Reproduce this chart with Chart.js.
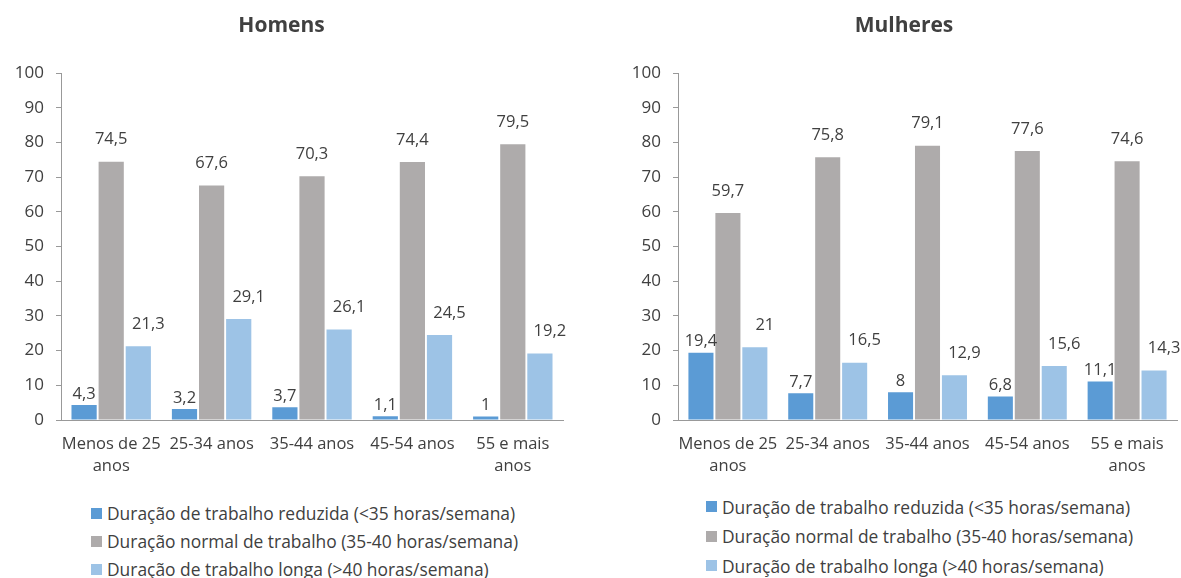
<!DOCTYPE html>
<html lang="pt">
<head>
<meta charset="utf-8">
<title>Duração do trabalho por grupo etário</title>
<script src="https://cdn.jsdelivr.net/npm/chart.js@4.4.1/dist/chart.umd.min.js"></script>
<style>
  body { margin: 0; background: #fff; font-family: 'Open Sans', sans-serif; }
  #pagina { position: relative; width: 1181px; height: 578px; overflow: hidden; }
  canvas { position: absolute; top: 0; }
  .legenda { position: absolute; color: #404040; font-size: 17.4px; }
  .legenda-item { display: flex; align-items: center; white-space: nowrap; }
  .legenda-item .cor { width: 11px; height: 11px; margin-right: 5px; flex: none; }
</style>
</head>
<body>
<div id="pagina">
  <canvas id="graficoHomens" width="580" height="490" style="left:0"></canvas>
  <canvas id="graficoMulheres" width="550" height="490" style="left:631px"></canvas>
  <div id="legendaHomens" class="legenda" style="left:91px; top:499px"></div>
  <div id="legendaMulheres" class="legenda" style="left:706px; top:492px"></div>
</div>
<script>
// grupos etários (eixo x)
const categorias = [["Menos de 25", "anos"], "25-34 anos", "35-44 anos", "45-54 anos", ["55 e mais", "anos"]];

const nomesSeries = [
  "Duração de trabalho reduzida (<35 horas/semana)",
  "Duração normal de trabalho (35-40 horas/semana)",
  "Duração de trabalho longa (>40 horas/semana)"
];
const coresSeries = ["#5B9BD5", "#AEABAB", "#9DC3E6"];

// percentagens, homens
const homensReduzida = [4.3, 3.2, 3.7, 1.1, 1];
const homensNormal = [74.5, 67.6, 70.3, 74.4, 79.5];
const homensLonga = [21.3, 29.1, 26.1, 24.5, 19.2];

// percentagens, mulheres
const mulheresReduzida = [19.4, 7.7, 8, 6.8, 11.1];
const mulheresNormal = [59.7, 75.8, 79.1, 77.6, 74.6];
const mulheresLonga = [21, 16.5, 12.9, 15.6, 14.3];

// eixo y
const yMin = 0;
const yMax = 100;
const yPasso = 10;

const corTexto = "#404040";
const corEixo = "#999999";

// deslocamento dos rótulos de valor em relação ao topo da barra
const deslocRotulos = [{ dx: 0, dy: 11 }, { dx: 0, dy: 22 }, { dx: 10, dy: 22 }];

Chart.defaults.font.family = "'Open Sans', sans-serif";
Chart.defaults.color = corTexto;

function formatar(v) {
  return String(v).replace(".", ",");
}

const rotulosValores = {
  id: "rotulosValores",
  afterDatasetsDraw(chart) {
    const ctx = chart.ctx;
    ctx.save();
    ctx.font = "16.5px 'Open Sans', sans-serif";
    ctx.fillStyle = corTexto;
    ctx.textAlign = "center";
    ctx.textBaseline = "middle";
    chart.data.datasets.forEach((ds, i) => {
      const d = deslocRotulos[i];
      chart.getDatasetMeta(i).data.forEach((barra, j) => {
        ctx.fillText(formatar(ds.data[j]), barra.x + d.dx, barra.y - d.dy);
      });
    });
    ctx.restore();
  }
};

function criarGrafico(id, titulo, series, larguraEixoY, margemDireita) {
  const datasets = series.map((valores, i) => ({
    label: nomesSeries[i],
    data: valores,
    backgroundColor: coresSeries[i],
    borderWidth: 0,
    categoryPercentage: 0.81,
    barPercentage: 0.93
  }));

  return new Chart(document.getElementById(id), {
    type: "bar",
    data: { labels: categorias, datasets: datasets },
    plugins: [rotulosValores],
    options: {
      responsive: false,
      animation: false,
      devicePixelRatio: 1,
      layout: { padding: { left: 0, right: margemDireita, top: 0, bottom: 0 } },
      plugins: {
        legend: { display: false },
        tooltip: { enabled: false },
        title: {
          display: true,
          text: titulo,
          color: corTexto,
          font: { size: 21, weight: "bold" },
          padding: { top: 13, bottom: 35 }
        }
      },
      scales: {
        x: {
          grid: { display: false, drawTicks: false },
          border: { display: true, color: corEixo, width: 1 },
          ticks: {
            color: corTexto,
            font: { size: 16.5, lineHeight: 1.3 },
            padding: 14,
            maxRotation: 0,
            autoSkip: false
          },
          afterFit(scale) { scale.height = 70; }
        },
        y: {
          min: yMin,
          max: yMax,
          grid: { drawOnChartArea: false, drawTicks: true, tickLength: 5, color: corEixo },
          border: { display: true, color: corEixo, width: 1 },
          ticks: {
            stepSize: yPasso,
            color: corTexto,
            font: { size: 17 },
            padding: 12
          },
          afterFit(scale) { scale.width = larguraEixoY; }
        }
      }
    }
  });
}

function criarLegenda(id, alturaLinha) {
  const caixa = document.getElementById(id);
  nomesSeries.forEach((nome, i) => {
    const item = document.createElement("div");
    item.className = "legenda-item";
    item.style.height = alturaLinha + "px";
    const cor = document.createElement("span");
    cor.className = "cor";
    cor.style.background = coresSeries[i];
    const texto = document.createElement("span");
    texto.textContent = nome;
    item.appendChild(cor);
    item.appendChild(texto);
    caixa.appendChild(item);
  });
}

criarGrafico("graficoHomens", "Homens", [homensReduzida, homensNormal, homensLonga], 61, 17);
criarGrafico("graficoMulheres", "Mulheres", [mulheresReduzida, mulheresNormal, mulheresLonga], 47, 4);
criarLegenda("legendaHomens", 28);
criarLegenda("legendaMulheres", 29.5);
</script>
</body>
</html>
